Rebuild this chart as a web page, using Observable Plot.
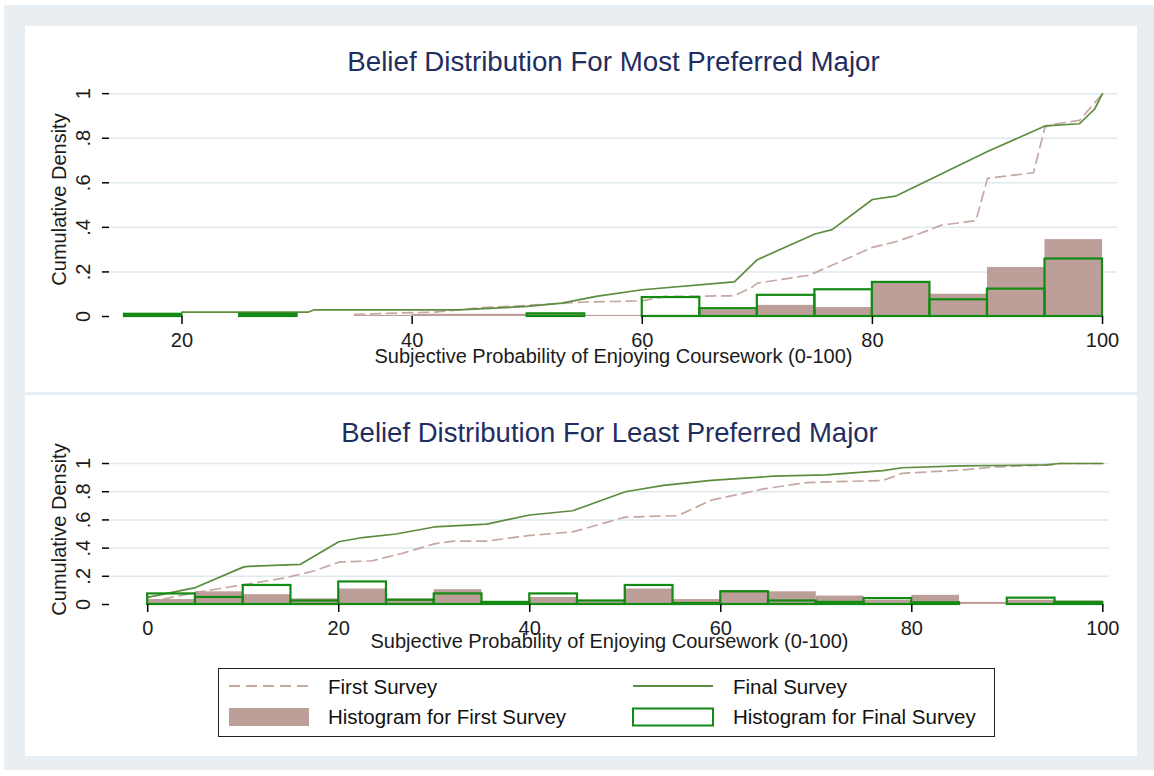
<!DOCTYPE html>
<html>
<head>
<meta charset="utf-8">
<script src="https://cdn.jsdelivr.net/npm/d3@7"></script>
<script src="https://cdn.jsdelivr.net/npm/@observablehq/plot@0.6"></script>
<style>
  html, body { margin: 0; padding: 0; background: #ffffff; }
  body { width: 1154px; height: 776px; position: relative; overflow: hidden;
         font-family: "Liberation Sans", Arial, sans-serif; }
  #outer { position: absolute; left: 4px; top: 5px; width: 1150px; height: 765px; background: #e8eef1; }
  .panel { position: absolute; left: 25px; width: 1112px; background: #ffffff; }
  #p1 { top: 26px; height: 366px; }
  #p2 { top: 395px; height: 361px; }
  #chart1 { position: absolute; left: 25px; top: 26px; }
  #chart2 { position: absolute; left: 25px; top: 395px; }
  #legend { position: absolute; left: 218px; top: 668px; width: 777px; height: 69px;
            border: 1px solid #222; box-sizing: border-box; background: #fff; }
  .lg-item { position: absolute; font-size: 20.5px; line-height: 22px; color: #111; white-space: nowrap; }
  .lg-sym { position: absolute; }
</style>
</head>
<body>
<div id="outer"></div>
<div class="panel" id="p1"></div>
<div class="panel" id="p2"></div>
<div id="chart1"></div>
<div id="chart2"></div>
<div id="legend">
  <svg class="lg-sym" style="left:9px;top:10px" width="82" height="14"><line x1="1" y1="7" x2="81" y2="7" stroke="#c6a8a3" stroke-width="2" stroke-dasharray="11,6"/></svg>
  <div class="lg-item" style="left:109px;top:7px">First Survey</div>
  <svg class="lg-sym" style="left:413px;top:10px" width="82" height="14"><line x1="1" y1="7" x2="81" y2="7" stroke="#5e8c3e" stroke-width="2"/></svg>
  <div class="lg-item" style="left:514px;top:7px">Final Survey</div>
  <svg class="lg-sym" style="left:9px;top:38px" width="82" height="20"><rect x="1" y="1" width="80" height="18" fill="#bc9f99"/></svg>
  <div class="lg-item" style="left:109px;top:37px">Histogram for First Survey</div>
  <svg class="lg-sym" style="left:413px;top:38px" width="82" height="20"><rect x="1" y="1.5" width="80" height="17" fill="none" stroke="#138a13" stroke-width="2"/></svg>
  <div class="lg-item" style="left:514px;top:37px">Histogram for Final Survey</div>
</div>
<script>
// ---------- data ----------
const binWidth = 5;
const yTicks = [0, 0.2, 0.4, 0.6, 0.8, 1];
const xLabel = "Subjective Probability of Enjoying Coursework (0-100)";
const yLabel = "Cumulative Density";

// Top panel: most preferred major
const topTitle = "Belief Distribution For Most Preferred Major";
const topXTicks = [20, 40, 60, 80, 100];
const topFirstX = [35, 42, 46, 50, 55, 60, 62, 68, 69.5, 70, 74.5, 80, 82, 84, 86, 89, 90, 94, 95, 96, 98, 100];
const topFirstY = [0.01, 0.02, 0.04, 0.05, 0.065, 0.07, 0.09, 0.093, 0.13, 0.15, 0.185, 0.31, 0.335, 0.37, 0.41, 0.43, 0.62, 0.645, 0.85, 0.865, 0.88, 1.0];
const topFinalX = [20, 31, 31.5, 44, 50, 53, 56, 60, 68, 70, 75, 76.5, 80, 82, 85, 90, 95, 98, 99.3, 100];
const topFinalY = [0.02, 0.02, 0.03, 0.03, 0.045, 0.06, 0.09, 0.12, 0.155, 0.255, 0.37, 0.39, 0.525, 0.54, 0.615, 0.74, 0.855, 0.865, 0.93, 1.0];
const topFirstBins = [35, 40, 45, 50, 55, 60, 65, 70, 75, 80, 85, 90, 95];
const topFirstHeights = [0.005, 0.01, 0.01, 0.01, 0.005, 0.005, 0.03, 0.05, 0.04, 0.15, 0.1, 0.22, 0.345];
const topFinalBins = [15, 25, 50, 60, 65, 70, 75, 80, 85, 90, 95];
const topFinalHeights = [0.01, 0.01, 0.012, 0.085, 0.035, 0.095, 0.12, 0.153, 0.075, 0.123, 0.258];

// Bottom panel: least preferred major
const botTitle = "Belief Distribution For Least Preferred Major";
const botXTicks = [0, 20, 40, 60, 80, 100];
const botFirstX = [0, 2.5, 5, 10, 14.5, 17.5, 20, 23.5, 26.5, 30, 32, 35.5, 40, 44.5, 50, 55.5, 59, 64.5, 69, 77, 79, 85.5, 88.5, 94.5, 95.5, 100];
const botFirstY = [0.015, 0.05, 0.085, 0.14, 0.19, 0.24, 0.3, 0.31, 0.36, 0.43, 0.45, 0.45, 0.49, 0.515, 0.62, 0.63, 0.74, 0.82, 0.865, 0.88, 0.93, 0.955, 0.975, 0.99, 1.0, 1.0];
const botFinalX = [0, 5, 10, 10.5, 16, 20, 22.5, 26, 30, 35.5, 40, 44.5, 50, 54, 59, 65.5, 71, 77, 79, 85, 94, 95.5, 100];
const botFinalY = [0.05, 0.12, 0.265, 0.27, 0.285, 0.445, 0.475, 0.5, 0.55, 0.57, 0.635, 0.665, 0.8, 0.845, 0.88, 0.91, 0.92, 0.95, 0.97, 0.983, 0.99, 1.0, 1.0];
const botFirstBins = [0, 5, 10, 15, 20, 25, 30, 35, 40, 45, 50, 55, 60, 65, 70, 75, 80, 85, 90, 95];
const botFirstHeights = [0.035, 0.09, 0.07, 0.04, 0.11, 0.04, 0.105, 0.01, 0.05, 0.02, 0.11, 0.035, 0.1, 0.09, 0.06, 0.03, 0.065, 0.015, 0.03, 0.025];
const botFinalBins = [0, 5, 10, 15, 20, 25, 30, 35, 40, 45, 50, 55, 60, 65, 70, 75, 80, 90, 95];
const botFinalHeights = [0.075, 0.05, 0.135, 0.025, 0.16, 0.03, 0.075, 0.015, 0.075, 0.025, 0.135, 0.007, 0.09, 0.025, 0.015, 0.042, 0.012, 0.045, 0.015];

// ---------- styling ----------
const FONT = '"Liberation Sans", Arial, sans-serif';
const COL_FIRST_LINE = "#c6a8a3";
const COL_FINAL_LINE = "#5e8c3e";
const COL_FIRST_HIST = "#bc9f99";
const COL_FINAL_HIST = "#138a13";
const COL_TITLE = "#1f2d5f";
const COL_GRID = "#dfe9ee";

const fmtY = d => d === 0 ? "0" : d === 1 ? "1" : d3.format(".1f")(d).replace(/^0/, "");

function drawPanel(cfg) {
  const first = cfg.firstX.map((x, i) => ({x, y: cfg.firstY[i]}));
  const final = cfg.finalX.map((x, i) => ({x, y: cfg.finalY[i]}));
  const hFirst = cfg.firstBins.map((b, i) => ({x1: b, x2: b + binWidth, y1: 0, y2: cfg.firstHeights[i]}));
  const hFinal = cfg.finalBins.map((b, i) => ({x1: b, x2: b + binWidth, y1: 0, y2: cfg.finalHeights[i]}));
  return Plot.plot({
    width: 1112,
    height: cfg.height,
    marginLeft: 84,
    marginRight: cfg.marginRight,
    marginTop: cfg.marginTop,
    marginBottom: cfg.marginBottom,
    style: {fontFamily: FONT, fontSize: "20px", color: "#1b1b1b", background: "transparent", overflow: "visible"},
    x: {domain: cfg.xDomain},
    y: {domain: cfg.yDomain},
    marks: [
      Plot.gridY(yTicks.filter(d => d > 0), {stroke: COL_GRID, strokeOpacity: 1, strokeWidth: 1.5}),
      Plot.line(first, {x: "x", y: "y", stroke: COL_FIRST_LINE, strokeWidth: 1.7, strokeDasharray: "10,6"}),
      Plot.line(final, {x: "x", y: "y", stroke: COL_FINAL_LINE, strokeWidth: 1.7}),
      Plot.rect(hFirst, {x1: "x1", x2: "x2", y1: "y1", y2: "y2", fill: COL_FIRST_HIST}),
      Plot.rect(hFinal, {x1: "x1", x2: "x2", y1: "y1", y2: "y2", fill: "none", stroke: COL_FINAL_HIST, strokeWidth: 2.2}),
      Plot.axisX({ticks: cfg.xTicks, tickSize: 8, tickPadding: 8, line: true, label: null,
                  stroke: "#000", strokeWidth: 1.5, tickFormat: d => String(d), fontSize: 20}),
      Plot.axisY({ticks: yTicks, tickSize: 7, tickPadding: 13, tickRotate: -90, tickFormat: fmtY,
                  line: true, label: null, stroke: "#000", strokeWidth: 1.5, fontSize: 20}),
      Plot.text([cfg.title], {text: d => d, frameAnchor: "top", dy: cfg.titleDy, lineAnchor: "bottom",
                              textAnchor: "middle", fontSize: cfg.titleSize, fill: COL_TITLE}),
      Plot.text([xLabel], {text: d => d, frameAnchor: "bottom", dy: cfg.xLabelDy, lineAnchor: "middle",
                           textAnchor: "middle", fontSize: 20}),
      Plot.text([yLabel], {text: d => d, frameAnchor: "left", dx: -50, rotate: -90, lineAnchor: "middle",
                           textAnchor: "middle", fontSize: 20})
    ]
  });
}

document.getElementById("chart1").append(drawPanel({
  title: topTitle, xTicks: topXTicks,
  firstX: topFirstX, firstY: topFirstY, finalX: topFinalX, finalY: topFinalY,
  firstBins: topFirstBins, firstHeights: topFirstHeights, finalBins: topFinalBins, finalHeights: topFinalHeights,
  xDomain: [13.7, 101.3], yDomain: [0, 1.05],
  height: 366, marginRight: 20, marginTop: 56, marginBottom: 76,
  titleDy: -12, titleSize: 27.7, xLabelDy: 40
}));

document.getElementById("chart2").append(drawPanel({
  title: botTitle, xTicks: botXTicks,
  firstX: botFirstX, firstY: botFirstY, finalX: botFinalX, finalY: botFinalY,
  firstBins: botFirstBins, firstHeights: botFirstHeights, finalBins: botFinalBins, finalHeights: botFinalHeights,
  xDomain: [-4, 100.7], yDomain: [0, 1.064],
  height: 270, marginRight: 28, marginTop: 59, marginBottom: 61,
  titleDy: -13, titleSize: 27.5, xLabelDy: 37
}));
</script>
</body>
</html>
